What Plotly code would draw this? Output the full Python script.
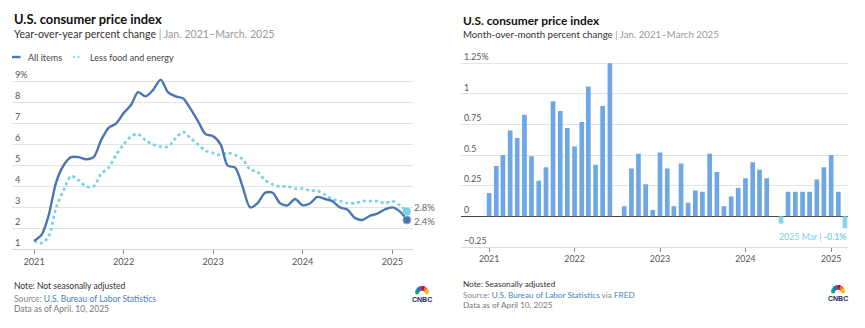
import math
import plotly.graph_objects as go

W, H = 865, 328

# ---------------- data ----------------
months = [f"{y}-{m:02d}-01" for y in range(2021, 2026) for m in range(1, 13)][:51]

all_items_yoy = [1.4, 1.7, 2.6, 4.2, 5.0, 5.4, 5.4, 5.3, 5.4, 6.2, 6.8, 7.0,
                 7.5, 7.9, 8.5, 8.3, 8.6, 9.1, 8.5, 8.3, 8.2, 7.7, 7.1, 6.5,
                 6.4, 6.0, 5.0, 4.9, 4.0, 3.0, 3.2, 3.7, 3.7, 3.2, 3.1, 3.4,
                 3.1, 3.2, 3.5, 3.4, 3.3, 3.0, 2.9, 2.5, 2.4, 2.6, 2.7, 2.9,
                 3.0, 2.8, 2.4]
core_yoy = [1.4, 1.3, 1.6, 3.0, 3.8, 4.5, 4.3, 4.0, 4.0, 4.6, 4.9, 5.5,
            6.0, 6.4, 6.5, 6.2, 6.0, 5.9, 5.9, 6.3, 6.6, 6.3, 6.0, 5.7,
            5.6, 5.5, 5.6, 5.5, 5.3, 4.8, 4.7, 4.3, 4.1, 4.0, 4.0, 3.9,
            3.9, 3.8, 3.8, 3.6, 3.4, 3.3, 3.2, 3.2, 3.3, 3.3, 3.3, 3.2,
            3.3, 3.1, 2.8]
mom_sa = [0.19, 0.41, 0.50, 0.70, 0.64, 0.83, 0.49, 0.29, 0.40, 0.94, 0.86, 0.72,
          0.57, 0.77, 1.06, 0.42, 0.90, 1.25, 0.0, 0.08, 0.39, 0.51, 0.26, 0.05,
          0.52, 0.39, 0.08, 0.43, 0.11, 0.21, 0.20, 0.51, 0.36, 0.08, 0.16, 0.23,
          0.31, 0.44, 0.38, 0.31, 0.0, -0.06, 0.20, 0.20, 0.20, 0.20, 0.30, 0.40,
          0.50, 0.20, -0.10]

year_ticks = ["2021-01-01", "2022-01-01", "2023-01-01", "2024-01-01", "2025-01-01"]
year_labels = ["2021", "2022", "2023", "2024", "2025"]
left_yvals = [1, 2, 3, 4, 5, 6, 7, 8, 9]
left_ylabels = ["1", "2", "3", "4", "5", "6", "7", "8", "9%"]
right_yvals = [-0.25, 0, 0.25, 0.5, 0.75, 1, 1.25]
right_ylabels = ["\u22120.25", "0", "0.25", "0.5", "0.75", "1", "1.25%"]

BLUE = "#4a76b3"
CYAN = "#74d1e6"
BAR = "#6ea7e4"
BAR_NEG = "#84d8ec"
FONT = "Lato"


def px(x):
    return x / W


def py(y):
    return 1 - y / H


L_Y1, L_Y9 = 249.3, 81.7
L_TOP = 9.6
l_unit = (L_Y1 - L_Y9) / 8
R_YM, R_YT = 246.7, 63.3
R_TOP = 1.35
r_unit = (R_YM - R_YT) / 1.5

fig = go.Figure()

fig.add_trace(go.Scatter(x=months, y=core_yoy, mode="lines", name="Less food and energy",
                         line=dict(color=CYAN, width=2.6, dash="dot", shape="spline", smoothing=0.8),
                         xaxis="x", yaxis="y", showlegend=False))
fig.add_trace(go.Scatter(x=months, y=all_items_yoy, mode="lines", name="All items",
                         line=dict(color=BLUE, width=2.4, shape="spline", smoothing=0.8),
                         xaxis="x", yaxis="y", showlegend=False))
fig.add_trace(go.Scatter(x=[months[-1]], y=[core_yoy[-1]], mode="markers",
                         marker=dict(color=CYAN, size=8), xaxis="x", yaxis="y", showlegend=False))
fig.add_trace(go.Scatter(x=[months[-1]], y=[all_items_yoy[-1]], mode="markers",
                         marker=dict(color=BLUE, size=8, line=dict(color="#8fb0dc", width=1)),
                         xaxis="x", yaxis="y", showlegend=False))

fig.add_trace(go.Bar(x=months, y=mom_sa, width=20 * 86400000,
                     marker=dict(color=[BAR if v >= 0 else BAR_NEG for v in mom_sa], line=dict(width=0)),
                     xaxis="x2", yaxis="y2", showlegend=False))

tickfont = dict(family=FONT, size=9.2, color="#555")

fig.update_layout(
    width=W, height=H,
    margin=dict(l=0, r=0, t=0, b=0),
    paper_bgcolor="white", plot_bgcolor="white",
    font=dict(family=FONT, color="#333"),
    xaxis=dict(domain=[px(12), px(413)], type="date",
               range=["2020-10-03", "2025-03-26"],
               tickvals=year_ticks, ticktext=year_labels,
               ticks="outside", ticklen=4, tickcolor="#888", tickwidth=1,
               showgrid=False, showline=True, linecolor="#d6d6d6", linewidth=1,
               tickfont=tickfont, anchor="y", zeroline=False),
    yaxis=dict(domain=[py(L_Y1), py(L_Y9 - (L_TOP - 9) * l_unit)], range=[1, L_TOP],
               tickvals=left_yvals, ticktext=left_ylabels,
               ticklabelposition="inside top", ticks="",
               showgrid=True, gridcolor="#e4e4e4", gridwidth=1,
               zeroline=False, showline=False, tickfont=tickfont, anchor="x"),
    xaxis2=dict(domain=[px(461), px(848)], type="date",
                range=["2020-09-03", "2025-03-14"],
                tickvals=year_ticks, ticktext=year_labels,
                ticks="outside", ticklen=4, tickcolor="#888", tickwidth=1,
                showgrid=False, showline=True, linecolor="#dcdcdc", linewidth=1,
                tickfont=dict(family=FONT, size=8.8, color="#555"), anchor="y2", zeroline=False),
    yaxis2=dict(domain=[py(R_YM), py(R_YT - (R_TOP - 1.25) * r_unit)], range=[-0.25, R_TOP],
                tickvals=right_yvals, ticktext=right_ylabels,
                ticklabelposition="inside top", ticks="",
                showgrid=True, gridcolor="#e4e4e4", gridwidth=1,
                zeroline=True, zerolinecolor="#444", zerolinewidth=1,
                showline=False, tickfont=dict(family=FONT, size=8.8, color="#555"), anchor="x2"),
    bargap=0.35,
)

ann = []
ann.append(dict(x=px(12), y=py(18.5), xref="paper", yref="paper", xanchor="left", yanchor="middle",
                text="<b>U.S. consumer price index</b>", showarrow=False,
                font=dict(family=FONT, size=12.9, color="#111")))
ann.append(dict(x=px(12), y=py(34), xref="paper", yref="paper", xanchor="left", yanchor="middle",
                text="Year-over-year percent change<span style='color:#999'> | Jan. 2021\u2013March. 2025</span>",
                showarrow=False, font=dict(family=FONT, size=10.6, color="#333")))
ann.append(dict(x=px(461), y=py(20), xref="paper", yref="paper", xanchor="left", yanchor="middle",
                text="<b>U.S. consumer price index</b>", showarrow=False,
                font=dict(family=FONT, size=11.9, color="#111")))
ann.append(dict(x=px(461), y=py(34), xref="paper", yref="paper", xanchor="left", yanchor="middle",
                text="Month-over-month percent change<span style='color:#999'> | Jan. 2021\u2013March 2025</span>",
                showarrow=False, font=dict(family=FONT, size=9.7, color="#333")))

ann.append(dict(x=px(26), y=py(57), xref="paper", yref="paper", xanchor="left", yanchor="middle",
                text="All items", showarrow=False, font=dict(family=FONT, size=9, color="#444")))
ann.append(dict(x=px(88), y=py(57), xref="paper", yref="paper", xanchor="left", yanchor="middle",
                text="Less food and energy", showarrow=False, font=dict(family=FONT, size=9, color="#444")))

ann.append(dict(x=months[-1], y=core_yoy[-1], xref="x", yref="y", xanchor="left", yanchor="middle",
                xshift=5, yshift=4, text=f"{core_yoy[-1]}%", showarrow=False,
                font=dict(family=FONT, size=9.5, color="#666")))
ann.append(dict(x=months[-1], y=all_items_yoy[-1], xref="x", yref="y", xanchor="left", yanchor="middle",
                xshift=5, yshift=-2, text=f"{all_items_yoy[-1]}%", showarrow=False,
                font=dict(family=FONT, size=9.5, color="#666")))
ann.append(dict(x=months[-1], y=mom_sa[-1], xref="x2", yref="y2", xanchor="right", yanchor="middle",
                xshift=4, yshift=-8,
                text=f"2025 Mar | <b>{mom_sa[-1]:.1f}%</b>", showarrow=False,
                font=dict(family=FONT, size=8.8, color="#7cd0e3")))


def foot(x, y, text, size=9.5, color="#333"):
    ann.append(dict(x=px(x), y=py(y), xref="paper", yref="paper", xanchor="left", yanchor="middle",
                    text=text, showarrow=False, font=dict(family=FONT, size=size, color=color)))


foot(12, 286, "Note: Not seasonally adjusted", 8.5, "#333")
foot(12, 298.5, "Source: <span style='color:#4a7fc1'>U.S. Bureau of Labor Statistics</span>", 8.5, "#888")
foot(12, 309, "Data as of April. 10, 2025", 8.5, "#777")
foot(461, 284, "Note: Seasonally adjusted", 8.2, "#333")
foot(461, 294.5, "Source: <span style='color:#4a7fc1'>U.S. Bureau of Labor Statistics</span> via "
                 "<span style='color:#4a7fc1'>FRED</span>", 8.2, "#888")
foot(461, 304.5, "Data as of April 10, 2025", 8.2, "#777")

for cx, cy in [(422, 299), (838, 298)]:
    ann.append(dict(x=px(cx), y=py(cy), xref="paper", yref="paper", xanchor="center", yanchor="middle",
                    text="<b>CNBC</b>", showarrow=False, font=dict(family="Arial", size=7, color="#1a2a55")))

fig.update_layout(annotations=ann)

shapes = []
shapes.append(dict(type="line", xref="paper", yref="paper", x0=px(12), x1=px(20.5), y0=py(57), y1=py(57),
                   line=dict(color=BLUE, width=2.4)))
for dx in (74, 78.5):
    shapes.append(dict(type="circle", xref="paper", yref="paper", x0=px(dx - 1.1), x1=px(dx + 1.1),
                       y0=py(58.1), y1=py(55.9), fillcolor=CYAN, line=dict(width=0)))

feather_colors = ["#0db14b", "#0089d0", "#6460aa", "#cc004c", "#f37021", "#fcb711"]
for cx, cy in [(422, 293.5), (838, 292.5)]:
    for i, col in enumerate(feather_colors):
        ang = math.radians(180 - 18 - i * 28.8)
        fx = cx + 5.2 * math.cos(ang)
        fy = cy - 5.2 * math.sin(ang)
        shapes.append(dict(type="circle", xref="paper", yref="paper",
                           x0=px(fx - 2.0), x1=px(fx + 2.0), y0=py(fy + 2.6), y1=py(fy - 2.6),
                           fillcolor=col, line=dict(width=0)))

fig.update_layout(shapes=shapes)

fig.write_html("out.html")
